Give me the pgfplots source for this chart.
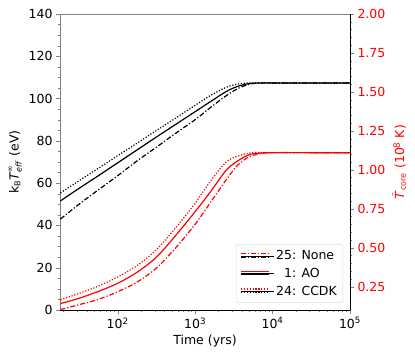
\documentclass[border=0pt]{standalone}
\usepackage{fontspec}
\setmainfont{DejaVu Sans}
\usepackage{pgfplots}
\usepackage{pgfplotstable}
\pgfplotsset{compat=1.18}

% t in yrs; black curves in eV (left axis), red curves in 10^8 K (right axis)
\pgfplotstableread{
t       solid  dotted dashdot
18.24   51.6   55.4   43.0
31.62   57.5   61.1   50.0
56.23   63.5   67.0   56.8
100     69.6   73.0   63.5
177.8   75.7   78.9   70.5
316.2   81.8   84.9   77.0
562.3   87.8   90.8   83.6
1000    93.8   96.8   90.0
1584.9  98.6   101.5  95.8
2511.9  103.3  105.3  101.3
3548.1  105.8  106.9  104.7
5011.9  107.1  107.4  106.8
7079.5  107.4  107.4  107.4
10000   107.4  107.4  107.4
31623   107.4  107.4  107.4
100000  107.4  107.4  107.4
}\blackdata

\pgfplotstableread{
t       solid  dotted dashdot
18.24   0.141  0.166  0.103
31.62   0.175  0.206  0.134
56.23   0.219  0.253  0.168
100     0.271  0.312  0.217
177.8   0.342  0.385  0.279
316.2   0.439  0.487  0.369
562.3   0.579  0.629  0.500
1000    0.731  0.785  0.650
1584.9  0.860  0.928  0.792
2511.9  0.996  1.050  0.935
3548.1  1.057  1.088  1.030
5011.9  1.097  1.107  1.084
7079.5  1.108  1.110  1.104
10000   1.110  1.110  1.110
31623   1.110  1.110  1.110
100000  1.110  1.110  1.110
}\reddata

\tikzset{
  dd/.style={dash pattern=on 5pt off 2pt on 1.2pt off 2pt},
  dt/.style={dash pattern=on 1.2pt off 1.7pt},
  curve/.style={line width=1.2pt, smooth, tension=0.5},
}

\begin{document}
\begin{tikzpicture}
\useasboundingbox (-60pt,-46pt) rectangle (355pt,310pt);
\begin{axis}[
  at={(0,0)}, anchor=south west,
  scale only axis, width=290pt, height=296pt,
  xmode=log, xmin=18, xmax=100000,
  tick align=outside,
  major tick length=4pt, minor tick length=2pt,
  font=\fontsize{12.5}{15}\selectfont,
  axis x line*=bottom, axis y line*=left,
  y axis line style={gray}, y tick style={gray},
  ymin=0, ymax=140, ytick={0,20,...,140}, minor y tick num=3,
  xtick={100,1000,10000,100000},
  xticklabels={10\textsuperscript{2},10\textsuperscript{3},10\textsuperscript{4},10\textsuperscript{5}},
  minor xtick={20,30,40,50,60,70,80,90,200,300,400,500,600,700,800,900,2000,3000,4000,5000,6000,7000,8000,9000,20000,30000,40000,50000,60000,70000,80000,90000},
  xlabel={Time (yrs)},
  ylabel={k$_{\mbox{\footnotesize B}}\mbox{\textit{T}}^{\mbox{\footnotesize ∞}}_{\mbox{\footnotesize\textit{eff}}}$ (eV)},
  yticklabel style={/pgf/number format/assume math mode=true},
]
\addplot[curve, black, dd, no marks] table[x=t, y=dashdot] {\blackdata};
\addplot[curve, black, no marks] table[x=t, y=solid] {\blackdata};
\addplot[curve, black, dt, no marks] table[x=t, y=dotted] {\blackdata};
\end{axis}

\begin{axis}[
  at={(0,0)}, anchor=south west,
  scale only axis, width=290pt, height=296pt,
  xmode=log, xmin=18, xmax=100000,
  tick align=outside,
  major tick length=4pt, minor tick length=2pt,
  font=\fontsize{12.5}{15}\selectfont,
  axis x line*=top, axis y line*=right,
  x axis line style={gray},
  xtick=\empty, minor xtick={},
  ymin=0.1, ymax=2.0, ytick={0.25,0.5,0.75,1.0,1.25,1.5,1.75,2.0}, minor y tick num=4,
  yticklabel style={red, /pgf/number format/.cd, fixed, fixed zerofill, precision=2, assume math mode=true},
  ylabel={$\tilde{\mbox{\textit{T}}}_{\mbox{\footnotesize core}}$ (10\textsuperscript{8} K)},
  ylabel style={red},
  legend cell align=left,
  legend style={at={(0.976,0.024)}, anchor=south east, draw=gray!30, rounded corners=2pt,
    fill=white, inner sep=4pt, row sep=3pt, font=\fontsize{12.5}{15}\selectfont},
]
\addplot[curve, red, dd, no marks, forget plot] table[x=t, y=dashdot] {\reddata};
\addplot[curve, red, no marks, forget plot] table[x=t, y=solid] {\reddata};
\addplot[curve, red, dt, no marks, forget plot] table[x=t, y=dotted] {\reddata};
\addlegendimage{legend image code/.code={
  \draw[red, line width=1.3pt, dd] (0pt,2.2pt) -- (28pt,2.2pt);
  \draw[black, line width=1.3pt, dd] (0pt,-1.2pt) -- (28pt,-1.2pt);
  \path (0pt,0pt) -- (33pt,0pt);}}
\addlegendentry{25: None}
\addlegendimage{legend image code/.code={
  \draw[red, line width=1.3pt] (0pt,2.2pt) -- (28pt,2.2pt);
  \draw[black, line width=1.3pt] (0pt,-1.2pt) -- (28pt,-1.2pt);
  \path (0pt,0pt) -- (33pt,0pt);}}
\addlegendentry{\phantom{2}1: AO}
\addlegendimage{legend image code/.code={
  \draw[red, line width=1.3pt, dt] (0pt,2.2pt) -- (28pt,2.2pt);
  \draw[black, line width=1.3pt, dt] (0pt,-1.2pt) -- (28pt,-1.2pt);
  \path (0pt,0pt) -- (33pt,0pt);}}
\addlegendentry{24: CCDK}
\end{axis}
\end{tikzpicture}
\end{document}
